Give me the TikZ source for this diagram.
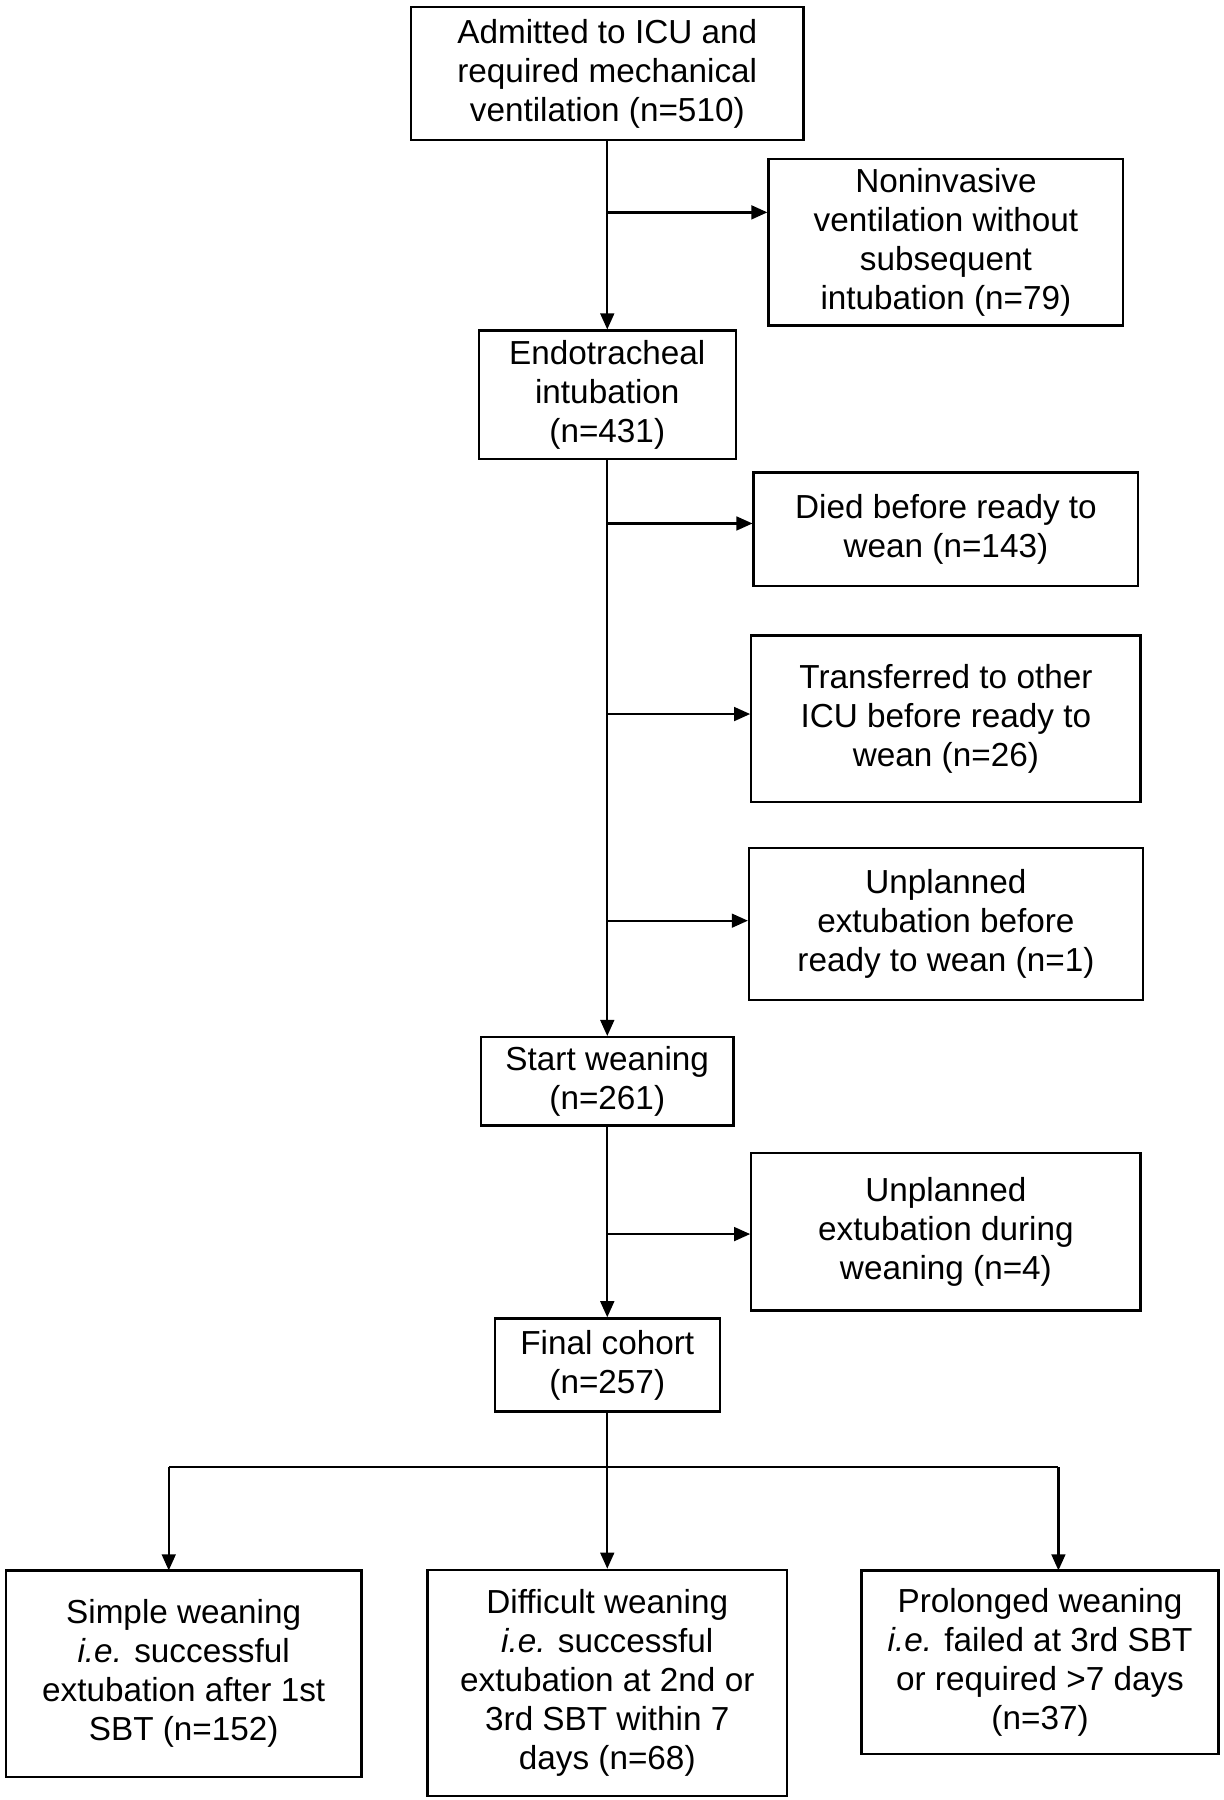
\documentclass[tikz,border=0pt]{standalone}
\usepackage{fontspec}
\setmainfont{Liberation Sans}
\usetikzlibrary{arrows.meta}
\begin{document}
\begin{tikzpicture}[x=0.5pt,y=-0.5pt,
 box/.style={draw,line width=1pt,align=center,inner sep=0pt,font=\fontsize{14.5}{17}\selectfont},
 arr/.style={line width=1pt,-{Triangle[length=7pt,width=6pt]}},
 ln/.style={line width=1pt}]
\useasboundingbox (0,0) rectangle (1066,1568);
\newcommand\bx[7]{\node[box,minimum width=#4*0.5pt,minimum height=#5*0.5pt] (#1) at (#2,#3) {#6};}
\bx{a}{529}{64}{342}{116}{Admitted to ICU and\\required mechanical\\ventilation (n=510)}{}
\bx{b}{824}{211}{309}{145}{Noninvasive\\ventilation without\\subsequent\\intubation (n=79)}{}
\bx{c}{529}{344}{224}{112}{Endotracheal\\intubation\\(n=431)}{}
\bx{d}{824}{461}{335}{99}{Died before ready to\\wean (n=143)}{}
\bx{e}{824}{626}{339}{145}{Transferred to other\\ICU before ready to\\wean (n=26)}{}
\bx{f}{824}{805}{343}{132}{Unplanned\\extubation before\\ready to wean (n=1)}{}
\bx{g}{529}{942}{220}{77}{Start weaning\\(n=261)}{}
\bx{h}{824}{1073}{339}{137}{Unplanned\\extubation during\\weaning (n=4)}{}
\bx{i}{529}{1189}{196}{81}{Final cohort\\(n=257)}{}
\bx{j}{160}{1458}{310}{180}{Simple weaning\\\textit{i.e.} successful\\extubation after 1st\\SBT (n=152)}{}
\bx{k}{529}{1466}{313}{197}{Difficult weaning\\\textit{i.e.} successful\\extubation at 2nd or\\3rd SBT within 7\\days (n=68)}{}
\bx{l}{906}{1448}{311}{160}{Prolonged weaning\\\textit{i.e.} failed at 3rd SBT\\or required >7 days\\(n=37)}{}
\draw[arr] (a.south) -- (c.north);
\draw[arr] (c.south) -- (g.north);
\draw[arr] (g.south) -- (i.north);
\coordinate (p1) at (529,185); \draw[arr] (p1) -- (b.west|-p1);
\coordinate (p2) at (529,456); \draw[arr] (p2) -- (d.west|-p2);
\coordinate (p3) at (529,622); \draw[arr] (p3) -- (e.west|-p3);
\coordinate (p4) at (529,802); \draw[arr] (p4) -- (f.west|-p4);
\coordinate (p5) at (529,1075); \draw[arr] (p5) -- (h.west|-p5);
\coordinate (q1) at (147,1278); \coordinate (q2) at (922,1278); \coordinate (q0) at (529,1278);
\draw[ln] (q1) -- (q2);
\draw[ln] (i.south) -- (q0);
\draw[arr] (q1) -- (147,1368);
\draw[arr] (q0) -- (k.north);
\draw[arr] (q2) -- (922,1368);
\end{tikzpicture}
\end{document}
